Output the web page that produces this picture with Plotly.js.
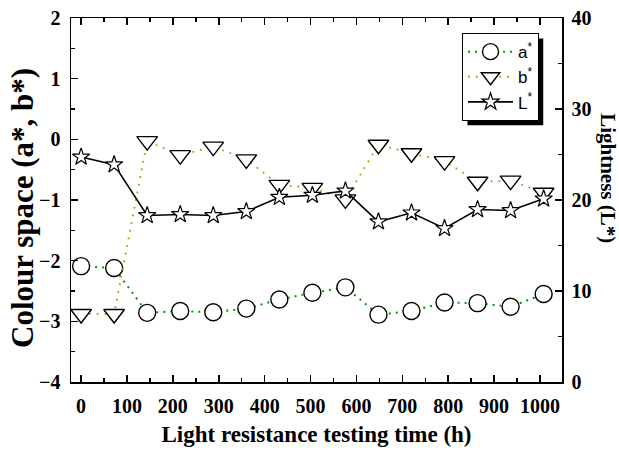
<!DOCTYPE html>
<html>
<head>
<meta charset="utf-8">
<script src="https://cdn.plot.ly/plotly-3.0.1.min.js"></script>
<style>
html,body{margin:0;padding:0;background:#fff;}
#chart{width:619px;height:450px;}
</style>
</head>
<body>
<div id="chart"></div>
<script>
// Data
const times = [0, 72, 144, 216, 288, 360, 432, 504, 576, 648, 720, 792, 864, 936, 1008];
const aStar = [-2.09, -2.12, -2.86, -2.83, -2.85, -2.79, -2.64, -2.53, -2.44, -2.89, -2.83, -2.69, -2.70, -2.76, -2.55];
const bStar = [-2.88, -2.88, -0.03, -0.26, -0.12, -0.33, -0.75, -0.80, -0.99, -0.09, -0.23, -0.36, -0.70, -0.68, -0.88];
const lStar = [24.73, 23.89, 18.30, 18.41, 18.30, 18.74, 20.30, 20.53, 21.00, 17.61, 18.59, 16.88, 18.96, 18.85, 20.13];
const seriesNames = ['a<sup>*</sup>', 'b<sup>*</sup>', 'L<sup>*</sup>'];
const xTitle = 'Light resistance testing time (h)';
const yTitle = 'Colour space (a*, b*)';
const y2Title = 'Lightness (L*)';

const serif = 'Liberation Serif, Times New Roman, serif';
const sans = 'Liberation Sans, Arial, sans-serif';

const traces = [
  {
    x: times, y: aStar, name: seriesNames[0], type: 'scatter', mode: 'lines+markers',
    line: {color: '#009a00', width: 2, dash: '2px,5px'},
    marker: {symbol: 'circle', size: 17, color: 'white', line: {color: 'black', width: 1.4}}
  },
  {
    x: times, y: bStar, name: seriesNames[1], type: 'scatter', mode: 'lines+markers',
    line: {color: '#a3a300', width: 1.8, dash: '1.8px,6px'},
    marker: {symbol: 'triangle-down', size: 18, color: 'white', line: {color: 'black', width: 1.4}}
  },
  {
    x: times, y: lStar, name: seriesNames[2], type: 'scatter', mode: 'lines+markers', yaxis: 'y2',
    line: {color: 'black', width: 1.6},
    marker: {symbol: 'star', size: 13, color: 'white', line: {color: 'black', width: 1.2}}
  }
];

const tickFont = {family: serif, size: 20, color: 'black', weight: 'bold'};
const xTitleFont = {family: serif, size: 23, color: 'black', weight: 'bold'};
const yTitleFont = {family: serif, size: 31, color: 'black', weight: 'bold'};
const y2TitleFont = {family: serif, size: 21, color: 'black', weight: 'bold'};

const axisCommon = {
  showline: true, linecolor: 'black', linewidth: 1.5,
  ticks: 'inside', ticklen: 7, tickwidth: 1.5, tickcolor: 'black',
  showgrid: false, zeroline: false, tickfont: tickFont
};

const layout = {
  width: 619, height: 450,
  margin: {l: 71, r: 57, t: 18, b: 68},
  paper_bgcolor: 'white', plot_bgcolor: 'white',
  showlegend: true,
  xaxis: Object.assign({}, axisCommon, {
    range: [-22, 1048], tick0: 0, dtick: 100, mirror: 'ticks',
    ticklabelstandoff: 5,
    minor: {dtick: 50, ticks: 'inside', ticklen: 4, tickwidth: 1.5, tickcolor: 'black'},
    title: {text: xTitle, font: xTitleFont, standoff: 10}
  }),
  yaxis: Object.assign({}, axisCommon, {
    range: [-4, 2], tick0: 0, dtick: 1,
    ticklabelstandoff: 5,
    minor: {dtick: 0.5, ticks: 'inside', ticklen: 4, tickwidth: 1.5, tickcolor: 'black'}
  }),
  yaxis2: Object.assign({}, axisCommon, {
    overlaying: 'y', side: 'right',
    range: [0, 40], tick0: 0, dtick: 10,
    ticklabelstandoff: 4,
    minor: {dtick: 5, ticks: 'inside', ticklen: 4, tickwidth: 1.5, tickcolor: 'black'}
  }),
  legend: {
    x: 0.796, y: 0.959, xanchor: 'left', yanchor: 'top',
    bgcolor: 'white', bordercolor: 'black', borderwidth: 1.2,
    font: {family: sans, size: 17, color: 'black'},
    itemwidth: 45,
    tracegroupgap: 0
  },
  annotations: [
    {
      text: yTitle, xref: 'paper', yref: 'paper', x: 0, y: 0.478,
      xanchor: 'center', yanchor: 'middle', xshift: -49, textangle: -90,
      showarrow: false, font: yTitleFont
    },
    {
      text: y2Title, xref: 'paper', yref: 'paper', x: 1, y: 0.56,
      xanchor: 'center', yanchor: 'middle', xshift: 46, textangle: 90,
      showarrow: false, font: y2TitleFont
    }
  ]
};

Plotly.newPlot('chart', traces, layout, {displayModeBar: false, staticPlot: true}).then(function (gd) {
  // add the black drop shadow behind the legend box
  const bg = gd.querySelector('.legend .bg');
  if (!bg) return;
  const r = bg.getBoundingClientRect();
  const c = gd.getBoundingClientRect();
  const s = gd._fullLayout._size;
  const off = 5;
  const px = function (x) { return (x - c.left - s.l) / s.w; };
  const py = function (y) { return 1 - (y - c.top - s.t) / s.h; };
  Plotly.relayout(gd, {
    shapes: [{
      type: 'rect', xref: 'paper', yref: 'paper', layer: 'above',
      x0: px(r.left + off), x1: px(r.right + off),
      y0: py(r.bottom + off), y1: py(r.top + off),
      fillcolor: 'black', line: {width: 0}
    }]
  });
});
</script>
</body>
</html>
